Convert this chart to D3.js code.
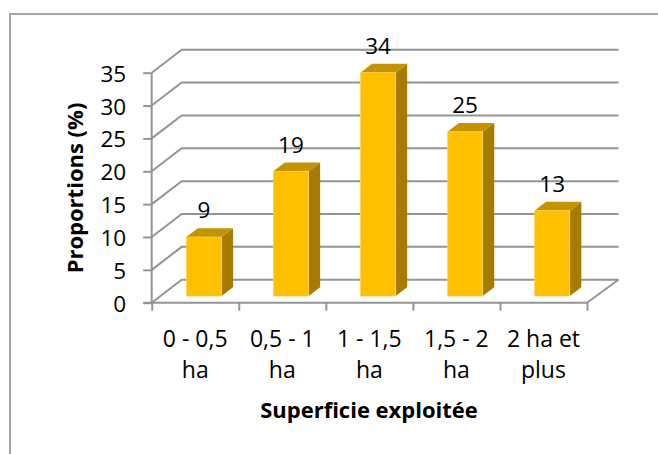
<!DOCTYPE html>
<html><head><meta charset="utf-8">
<script src="https://cdnjs.cloudflare.com/ajax/libs/d3/7.8.5/d3.min.js"></script>
<style>html,body{margin:0;padding:0;background:#fff}svg{display:block}text{font-family:"Open Sans",sans-serif;fill:#000}</style>
</head><body><div id="chart"></div>
<script>
const categories = [["0 - 0,5","ha"],["0,5 - 1","ha"],["1 - 1,5","ha"],["1,5 - 2","ha"],["2 ha et","plus"]];
const values = [9,19,34,25,13];
const yTicks = [0,5,10,15,20,25,30,35];
const xTitle = "Superficie exploitée";
const yTitle = "Proportions (%)";

const W=658,H=454;
const svg=d3.select("#chart").append("svg").attr("width",W).attr("height",H);
const x=d3.scaleBand().domain(d3.range(categories.length)).range([151.7,587]).paddingInner(0).paddingOuter(0);
const y=d3.scaleLinear().domain([0,35]).range([302.7,72.7]);
const backDx=30,backDy=23, barShiftX=8.7, barShiftY=6.6, barW=35.3, depthX=11.5, depthY=8.8;
const grey="#949494";

// frame: left and top edges only
svg.append("path").attr("d",`M10,${H}V14H${W}`).attr("fill","none").attr("stroke","#a6a6a6").attr("stroke-width",2);

// gridlines (back wall + side wall)
const grid=svg.append("g").attr("fill","none").attr("stroke",grey).attr("stroke-width",2);
yTicks.forEach(t=>{
  grid.append("path").attr("d",`M${x.range()[0]},${y(t)}L${x.range()[0]+backDx},${y(t)-backDy}H${x.range()[1]+backDx+1.5}`);
});
// floor right edge
grid.append("path").attr("d",`M${x.range()[1]},${y(0)}L${x.range()[1]+backDx+1.5},${y(0)-backDy}`);

// axes
const yAxis=d3.axisLeft(y).tickValues(yTicks).tickSize(8.5).tickPadding(17);
const gy=svg.append("g").attr("transform",`translate(${x.range()[0]},0)`).call(yAxis);
const xAxis=d3.axisBottom(d3.scaleLinear().domain([0,5]).range(x.range())).tickValues(d3.range(6)).tickSize(8).tickFormat("");
const gx=svg.append("g").attr("transform",`translate(0,${y(0)})`).call(xAxis);
svg.selectAll(".domain,.tick line").attr("stroke",grey).attr("stroke-width",2);
gy.select(".domain").attr("d",`M0,${y(35)}V${y(0)}`);
gx.select(".domain").attr("d",`M${x.range()[0]-8.5},0H${x.range()[1]}`);
gy.selectAll(".tick text").style("font-size","22.5px").attr("font-family",null).attr("dy","8.5px");

// bars
const bars=svg.append("g").selectAll("g").data(values).join("g");
const bx=(d,i)=>x(i)+x.bandwidth()/2+barShiftX-barW/2;
const by=d=>y(d)-barShiftY;
const by0=y(0)-barShiftY;
bars.append("path").attr("fill","#a67c00").attr("d",(d,i)=>{const a=bx(d,i)+barW;
  return `M${a},${by(d)}l${depthX},${-depthY}V${by0-depthY}l${-depthX},${depthY}Z`});
bars.append("path").attr("fill","#c49400").attr("d",(d,i)=>{const a=bx(d,i);
  return `M${a},${by(d)}l${depthX},${-depthY}h${barW}l${-depthX},${depthY}Z`});
bars.append("rect").attr("fill","#ffc000").attr("stroke","#ffd75e").attr("stroke-width",0.6)
  .attr("x",(d,i)=>bx(d,i)).attr("y",d=>by(d)).attr("width",barW).attr("height",d=>by0-by(d));

// value labels
svg.append("g").selectAll("text").data(values).join("text")
  .attr("x",(d,i)=>bx(d,i)+barW/2).attr("y",d=>by(d)-18.5)
  .attr("text-anchor","middle").style("font-size","22.5px").text(d=>d);

// category labels
const cat=svg.append("g").selectAll("text").data(categories).join("text")
  .attr("text-anchor","middle").style("font-size","23px");
cat.selectAll("tspan").data((d,i)=>d.map(s=>({s,i}))).join("tspan")
  .attr("x",d=>x(d.i)+x.bandwidth()/2).attr("y",(d,j)=>346.7+j*31.3).text(d=>d.s);

// titles
svg.append("text").attr("x",369).attr("y",418).attr("text-anchor","middle").style("font-size","22px").style("font-weight","700").text(xTitle);
svg.append("text").attr("transform","translate(83,188) rotate(-90)").attr("text-anchor","middle").style("font-size","22px").style("font-weight","700").text(yTitle);
</script></body></html>
